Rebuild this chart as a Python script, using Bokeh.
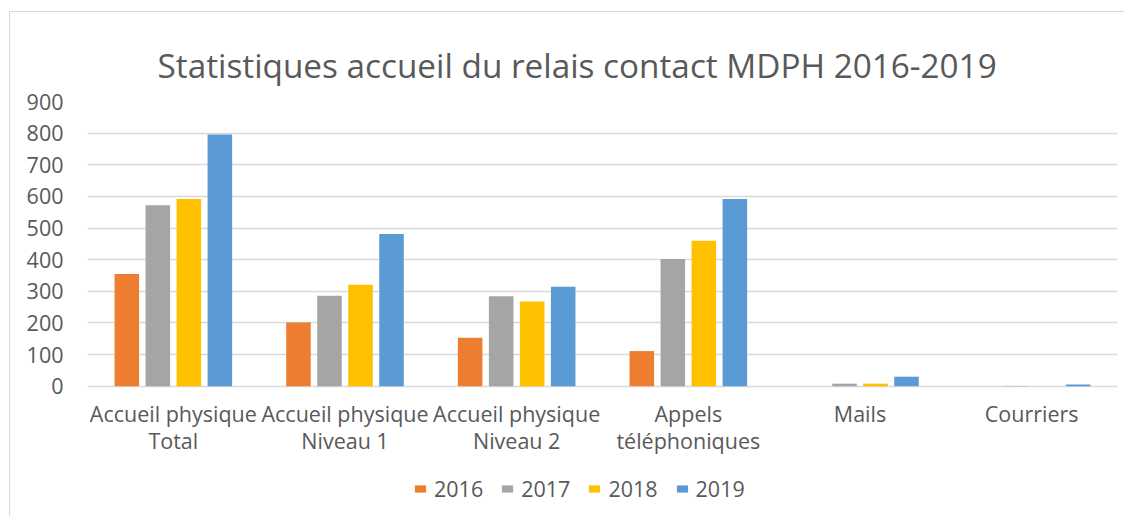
from bokeh.plotting import figure
from bokeh.models import (ColumnDataSource, Legend, LegendItem, FactorRange,
                          FixedTicker)
from bokeh.core.properties import value
from bokeh.transform import dodge
from bokeh.embed import file_html
from bokeh.resources import INLINE

categories = ["Accueil physique\nTotal", "Accueil physique\nNiveau 1", "Accueil physique\nNiveau 2",
              "Appels\ntéléphoniques", "Mails", "Courriers"]
years = ["2016", "2017", "2018", "2019"]
v2016 = [355, 201, 153, 111, 0, 0]
v2017 = [572, 286, 284, 402, 8, 1]
v2018 = [592, 321, 268, 460, 8, 0]
v2019 = [796, 481, 314, 592, 30, 5]
y_ticks = [0, 100, 200, 300, 400, 500, 600, 700, 800, 900]
colors = ["#ED7D31", "#A5A5A5", "#FFC000", "#5B9BD5"]

src = ColumnDataSource(dict(cat=categories, y2016=v2016, y2017=v2017, y2018=v2018, y2019=v2019))

FONT = "Open Sans"
TXT = "#595959"
FS = "21.5px"

# frame extends below zero to host category labels and legend
Y_BOTTOM = -399.3
p = figure(x_range=FactorRange(factors=categories), y_range=(Y_BOTTOM, 900),
           width=1115, height=505, output_backend="svg", toolbar_location=None,
           title="Statistiques accueil du relais contact MDPH 2016-2019",
           min_border_left=77, min_border_right=8, min_border_top=89, min_border_bottom=5)
p.styles = {"border-left": "1px solid #D9D9D9", "border-top": "1px solid #D9D9D9",
            "margin-left": "9px", "margin-top": "11px"}

p.title.text_font = FONT
p.title.text_font_size = "33.3px"
p.title.text_font_style = "normal"
p.title.text_color = TXT
p.title.align = "left"
p.title.standoff = 27
p.title.offset = 70

offsets = [-0.271, -0.0903, 0.0903, 0.271]
items = []
for yr, off, col in zip(years, offsets, colors):
    r = p.vbar(x=dodge("cat", off, range=p.x_range), top="y" + yr, width=0.143,
               source=src, fill_color=col, line_color=None)
    items.append(LegendItem(label=yr, renderers=[r]))

# category labels (two lines)
line1 = [c.split("\n")[0] for c in categories]
line2 = [c.split("\n")[1] if "\n" in c else "" for c in categories]
p.text(x=categories, y=[-86.3] * len(categories), text=line1, text_font=value(FONT),
       text_font_size=FS, text_color=TXT, text_align="center", text_baseline="middle")
p.text(x=categories, y=[-171.7] * len(categories), text=line2, text_font=value(FONT),
       text_font_size=FS, text_color=TXT, text_align="center", text_baseline="middle")

legend = Legend(items=items, orientation="horizontal", location=(326, 9),
                glyph_width=14, glyph_height=9, label_text_font=FONT,
                label_text_font_size=FS, label_text_color=TXT,
                spacing=17, border_line_color=None, background_fill_alpha=0,
                padding=0, margin=0, label_standoff=7)
p.add_layout(legend, "center")

p.outline_line_color = None
p.xaxis.visible = False
p.xgrid.grid_line_color = None
p.ygrid.ticker = FixedTicker(ticks=y_ticks)
p.ygrid.grid_line_color = "#D9D9D9"
p.ygrid.grid_line_width = 1.5
p.yaxis.ticker = FixedTicker(ticks=y_ticks)
p.yaxis.axis_line_color = None
p.yaxis.major_tick_line_color = None
p.yaxis.minor_tick_line_color = None
p.yaxis.major_label_standoff = 18
p.yaxis.major_label_text_font = FONT
p.yaxis.major_label_text_font_size = FS
p.yaxis.major_label_text_color = TXT

open("out.html", "w").write(file_html(p, INLINE))
